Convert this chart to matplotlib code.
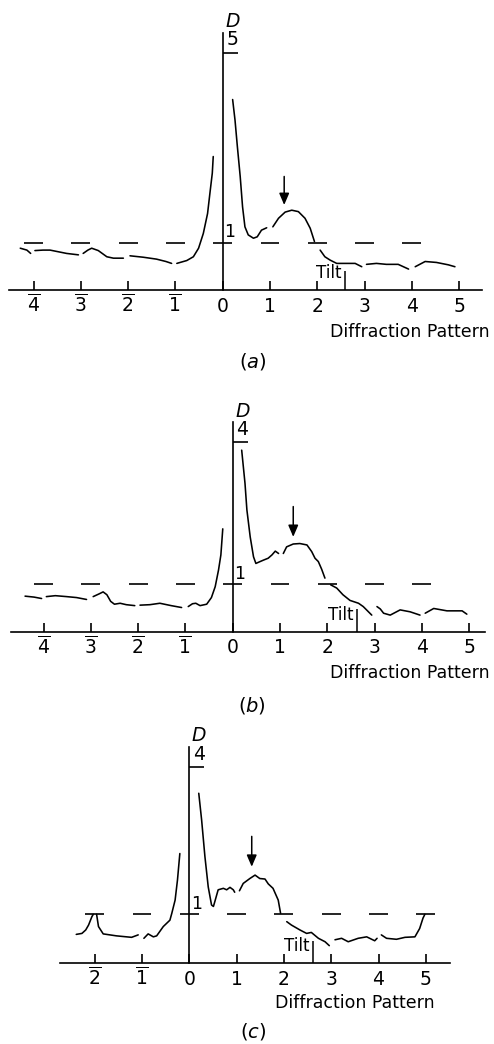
import matplotlib
matplotlib.use("Agg")
import matplotlib.pyplot as plt
import numpy as np

plt.rcParams['font.family'] = 'DejaVu Sans'
plt.rcParams['mathtext.fontset'] = 'dejavusans'

W, H = 494, 1044

# ---- panel (a) ----
a_ticks = [-4, -3, -2, -1, 0, 1, 2, 3, 4, 5]
a_dashes = [-4, -3, -2, -1, 0, 1, 2, 3, 4]
a_dmax = 5
a_segments = [
    ([-4.28, -4.14, -4.06], [0.88, 0.84, 0.77]),
    ([-3.97, -3.80, -3.65, -3.45, -3.30, -3.05], [0.83, 0.84, 0.84, 0.80, 0.77, 0.74]),
    ([-2.95, -2.85, -2.77, -2.63, -2.45, -2.31, -2.10], [0.77, 0.84, 0.88, 0.83, 0.70, 0.67, 0.67]),
    ([-1.96, -1.68, -1.40, -1.20, -1.08], [0.72, 0.69, 0.65, 0.60, 0.56]),
    ([-0.97, -0.76, -0.62, -0.51, -0.41, -0.32, -0.27, -0.22, -0.20],
     [0.56, 0.62, 0.70, 0.88, 1.19, 1.61, 2.04, 2.46, 2.81]),
    ([0.21, 0.26, 0.31, 0.37, 0.42, 0.47, 0.54, 0.65, 0.73, 0.82, 0.93],
     [4.01, 3.58, 3.02, 2.39, 1.75, 1.33, 1.16, 1.09, 1.12, 1.26, 1.31]),
    ([1.06, 1.18, 1.32, 1.46, 1.60, 1.74, 1.85, 1.94],
     [1.33, 1.51, 1.64, 1.68, 1.65, 1.51, 1.30, 1.02]),
    ([2.06, 2.16, 2.27, 2.41, 2.62, 2.80, 2.94], [0.84, 0.70, 0.63, 0.56, 0.56, 0.56, 0.49]),
    ([3.04, 3.25, 3.46, 3.71, 3.93], [0.54, 0.56, 0.54, 0.54, 0.44]),
    ([4.07, 4.28, 4.52, 4.77, 4.91], [0.49, 0.60, 0.58, 0.53, 0.49]),
]
a_arrow = (1.30, 2.39, 1.79)
a_tilt = (2.58, 0.41)

# ---- panel (b) ----
b_ticks = [-4, -3, -2, -1, 0, 1, 2, 3, 4, 5]
b_dashes = [-4, -3, -2, -1, 0, 1, 2, 3, 4]
b_dmax = 4
b_segments = [
    ([-4.39, -4.20, -4.04], [0.75, 0.73, 0.70]),
    ([-3.94, -3.75, -3.51, -3.30, -3.09], [0.74, 0.76, 0.74, 0.72, 0.68]),
    ([-2.95, -2.82, -2.74, -2.66, -2.58, -2.50, -2.38, -2.25, -2.07],
     [0.74, 0.80, 0.84, 0.78, 0.64, 0.58, 0.60, 0.57, 0.55]),
    ([-1.96, -1.75, -1.54, -1.30, -1.08], [0.56, 0.57, 0.60, 0.55, 0.51]),
    ([-0.94, -0.85, -0.78, -0.69, -0.55, -0.45, -0.37, -0.30, -0.25, -0.21],
     [0.53, 0.59, 0.60, 0.55, 0.58, 0.72, 0.95, 1.30, 1.62, 2.17]),
    ([0.19, 0.26, 0.30, 0.37, 0.44, 0.49, 0.58, 0.65, 0.75, 0.83, 0.90, 0.97],
     [3.83, 3.13, 2.57, 2.00, 1.58, 1.44, 1.48, 1.51, 1.55, 1.62, 1.70, 1.65]),
    ([1.07, 1.14, 1.28, 1.42, 1.57, 1.67, 1.74, 1.81, 1.88, 1.95],
     [1.65, 1.79, 1.85, 1.86, 1.83, 1.69, 1.55, 1.48, 1.32, 1.13]),
    ([2.07, 2.20, 2.33, 2.48, 2.66, 2.76, 2.85, 2.94],
     [0.99, 0.92, 0.78, 0.66, 0.60, 0.53, 0.44, 0.35]),
    ([3.05, 3.12, 3.19, 3.33, 3.54, 3.75, 3.96], [0.53, 0.48, 0.39, 0.35, 0.46, 0.42, 0.35]),
    ([4.07, 4.25, 4.53, 4.85, 4.95], [0.39, 0.49, 0.44, 0.44, 0.37]),
]
b_arrow = (1.28, 2.64, 2.00)
b_tilt = (2.62, 0.47)

# ---- panel (c) ----
c_ticks = [-2, -1, 0, 1, 2, 3, 4, 5]
c_dashes = [-2, -1, 0, 1, 2, 3, 4, 5]
c_dmax = 4
c_segments = [
    ([-2.39, -2.27, -2.19, -2.13, -2.06, -2.03], [0.59, 0.61, 0.68, 0.78, 0.95, 1.00]),
    ([-1.96, -1.92, -1.82, -1.54, -1.22, -1.08], [1.00, 0.75, 0.60, 0.56, 0.53, 0.58]),
    ([-0.96, -0.87, -0.76, -0.69, -0.55, -0.41, -0.37, -0.30, -0.25, -0.20],
     [0.51, 0.60, 0.54, 0.56, 0.75, 0.88, 1.02, 1.29, 1.70, 2.24]),
    ([0.20, 0.26, 0.33, 0.40, 0.47, 0.51, 0.54, 0.61, 0.72, 0.79, 0.86, 0.93, 0.96],
     [3.47, 2.93, 2.18, 1.56, 1.19, 1.16, 1.26, 1.50, 1.53, 1.50, 1.55, 1.50, 1.45]),
    ([1.06, 1.14, 1.28, 1.39, 1.49, 1.60, 1.67, 1.77, 1.88, 1.93],
     [1.48, 1.63, 1.73, 1.80, 1.73, 1.72, 1.62, 1.53, 1.29, 1.02]),
    ([2.06, 2.16, 2.34, 2.48, 2.58, 2.73, 2.87, 2.96],
     [0.85, 0.78, 0.68, 0.61, 0.63, 0.51, 0.44, 0.36]),
    ([3.08, 3.22, 3.36, 3.57, 3.75, 3.92, 3.97], [0.48, 0.51, 0.44, 0.51, 0.54, 0.46, 0.51]),
    ([4.06, 4.17, 4.38, 4.56, 4.77, 4.87, 4.94, 4.98], [0.58, 0.51, 0.49, 0.53, 0.54, 0.71, 0.92, 1.00]),
]
c_arrow = (1.32, 2.59, 1.97)
c_tilt = (2.61, 0.46)


def make_axes(fig, top, bot, x0, xu, y0, yu):
    # axes spanning the full width, mapped so that data units match the scan
    ax = fig.add_axes([0, 1 - bot / H, 1, (bot - top) / H])
    ax.set_xlim(-x0 / xu, (W - x0) / xu)
    ax.set_ylim((y0 - bot) / yu, (y0 - top) / yu)
    ax.patch.set_alpha(0)
    return ax


def draw_panel(ax, ticks, dashes, dmax, segments, arrow, tilt, span, label_x):
    for s in ['top', 'right']:
        ax.spines[s].set_visible(False)
    ax.spines['bottom'].set_position(('data', 0))
    ax.spines['bottom'].set_bounds(*span)
    ax.spines['left'].set_position(('data', 0))
    ax.spines['left'].set_bounds(0, dmax + 0.42)
    for s in ['bottom', 'left']:
        ax.spines[s].set_linewidth(1.2)
    ax.set_yticks([])
    ax.set_xticks(ticks)
    ax.set_xticklabels([r'$\overline{%d}$' % -t if t < 0 else str(t) for t in ticks])
    ax.tick_params(axis='x', direction='in', length=6.5, width=1.2, pad=15.5,
                   labelsize=13.5)
    for lab in ax.get_xticklabels():
        lab.set_verticalalignment('baseline')

    # dashed reference level D = 1
    for c in dashes:
        ax.hlines(1, c - 0.2, c + 0.2, color='black', lw=1.2)

    for xs, ys in segments:
        ax.plot(xs, ys, color='black', lw=1.15, solid_joinstyle='round',
                solid_capstyle='round')

    # scale marks on the D axis
    ax.hlines(dmax, 0, 0.32, color='black', lw=1.2)
    ax.text(0.08, dmax + 0.07, str(dmax), fontsize=13.5, ha='left', va='bottom')
    ax.text(0.05, dmax + 0.65, 'D', fontsize=13.5, style='italic', ha='left', va='center')
    ax.text(0.04, 1.03, '1', fontsize=12.5, ha='left', va='bottom')

    # arrow over the secondary maximum
    ax.annotate('', xy=(arrow[0], arrow[2]), xytext=(arrow[0], arrow[1]),
                arrowprops=dict(arrowstyle='-|>,head_length=0.7,head_width=0.3',
                                color='black', lw=1.1, shrinkA=0, shrinkB=0))

    ax.vlines(tilt[0], 0, tilt[1], color='black', lw=1.1)
    ax.text(tilt[0] - 0.06, 0.35, 'Tilt', fontsize=12, ha='right', va='center')

    ax.text(label_x[0], label_x[1], 'Diffraction Pattern', fontsize=12.5,
            ha='right', va='center', clip_on=False)


fig = plt.figure(figsize=(W / 100, H / 100), dpi=100)

ax_a = make_axes(fig, 0, 340, 222.7, 47.3, 290.0, 47.5)
draw_panel(ax_a, a_ticks, a_dashes, a_dmax, a_segments, a_arrow, a_tilt,
           (-4.51, 5.48), (5.65, -0.88))

ax_b = make_axes(fig, 380, 680, 232.7, 47.3, 631.7, 47.4)
draw_panel(ax_b, b_ticks, b_dashes, b_dmax, b_segments, b_arrow, b_tilt,
           (-4.68, 5.34), (5.44, -0.87))

ax_c = make_axes(fig, 725, 1010, 189.3, 47.3, 963.3, 49.0)
draw_panel(ax_c, c_ticks, c_dashes, c_dmax, c_segments, c_arrow, c_tilt,
           (-2.73, 5.52), (5.19, -0.81))

fig.text(253 / W, 1 - 362 / H, r'($\it{a}$)', fontsize=14, ha='center', va='center')
fig.text(252 / W, 1 - 705 / H, r'($\it{b}$)', fontsize=14, ha='center', va='center')
fig.text(253 / W, 1 - 1031 / H, r'($\it{c}$)', fontsize=14, ha='center', va='center')

fig.savefig('out.png', dpi=100)
